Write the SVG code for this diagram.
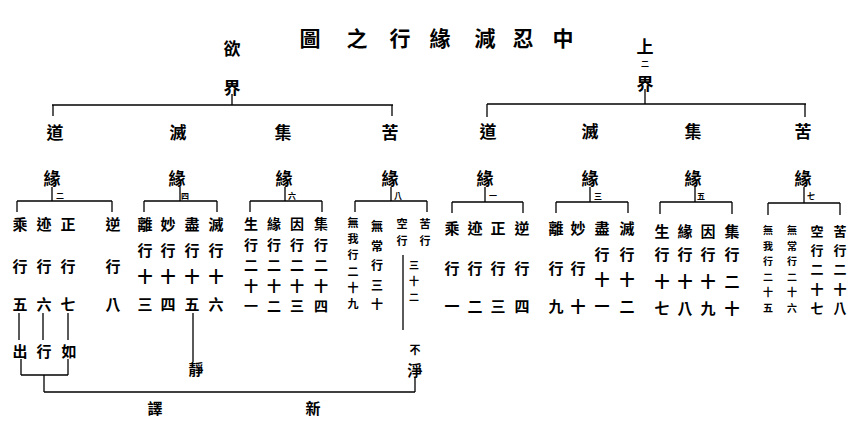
<svg xmlns="http://www.w3.org/2000/svg" width="860" height="448" viewBox="0 0 860 448">
<style>
text{font-family:"Noto Sans CJK TC","Noto Sans CJK SC",sans-serif;font-weight:700;fill:#000;text-anchor:middle;dominant-baseline:central}
.t{font-size:21px}
.h{font-size:17px}
.c{font-size:15px}
.c14{font-size:14px}
.c13{font-size:13px}
.s{font-size:12px}
.s11{font-size:11px}
.s10{font-size:10px}
.n{font-size:8px}
.ln line{stroke:#000;stroke-width:1.3}
</style>
<rect width="860" height="448" fill="#fff"/>
<g id="title"><text class="t" x="310 357 400 440 485 523 563" y="37">圖之行緣減忍中</text></g>

<g class="ln" id="connectors">
<line x1="232" y1="94" x2="232" y2="105"/>
<line x1="52" y1="105" x2="393" y2="105"/>
<line x1="53" y1="105" x2="53" y2="116"/>
<line x1="392" y1="105" x2="392" y2="116"/>
<line x1="645" y1="89" x2="645" y2="104"/>
<line x1="487" y1="104" x2="806" y2="104"/>
<line x1="487" y1="104" x2="487" y2="117"/>
<line x1="805" y1="104" x2="805" y2="117"/>
<line x1="52" y1="187" x2="52" y2="201"/><line x1="17" y1="201" x2="112" y2="201"/><line x1="17" y1="201" x2="17" y2="212"/><line x1="112" y1="201" x2="112" y2="212"/>
<line x1="180" y1="187" x2="180" y2="201"/><line x1="144" y1="201" x2="217" y2="201"/><line x1="144" y1="201" x2="144" y2="212"/><line x1="217" y1="201" x2="217" y2="212"/>
<line x1="285" y1="187" x2="285" y2="201"/><line x1="250" y1="201" x2="322" y2="201"/><line x1="250" y1="201" x2="250" y2="212"/><line x1="322" y1="201" x2="322" y2="212"/>
<line x1="391" y1="187" x2="391" y2="201"/><line x1="355" y1="201" x2="427" y2="201"/><line x1="355" y1="201" x2="355" y2="212"/><line x1="427" y1="201" x2="427" y2="212"/>
<line x1="485" y1="187" x2="485" y2="202"/><line x1="452" y1="202" x2="523" y2="202"/><line x1="452" y1="202" x2="452" y2="213"/><line x1="523" y1="202" x2="523" y2="213"/>
<line x1="590" y1="187" x2="590" y2="202"/><line x1="556" y1="202" x2="628" y2="202"/><line x1="556" y1="202" x2="556" y2="213"/><line x1="628" y1="202" x2="628" y2="213"/>
<line x1="695" y1="187" x2="695" y2="202"/><line x1="660" y1="202" x2="732" y2="202"/><line x1="660" y1="202" x2="660" y2="214"/><line x1="732" y1="202" x2="732" y2="214"/>
<line x1="804" y1="187" x2="804" y2="203"/><line x1="768" y1="203" x2="840" y2="203"/><line x1="768" y1="203" x2="768" y2="215"/><line x1="840" y1="203" x2="840" y2="215"/>
<line x1="19" y1="313" x2="19" y2="340"/>
<line x1="43" y1="313" x2="43" y2="340"/>
<line x1="68" y1="313" x2="68" y2="340"/>
<line x1="21" y1="359" x2="21" y2="375"/>
<line x1="68" y1="359" x2="68" y2="375"/>
<line x1="21" y1="375" x2="68" y2="375"/>
<line x1="44" y1="375" x2="44" y2="392"/>
<line x1="44" y1="392" x2="415" y2="392"/>
<line x1="415" y1="377" x2="415" y2="392"/>
<line x1="193" y1="313" x2="193" y2="362"/>
<line x1="403" y1="255" x2="403" y2="330"/>
</g>

<g id="yujie"><text class="h" x="232" y="47">欲</text><text class="h" x="232" y="86">界</text></g>
<g id="shangerjie"><text class="h" x="645" y="45">上</text><text class="n" x="645" y="63">二</text><text class="h" x="645" y="82">界</text></g>

<g id="left-truths">
<text class="h" x="55" y="131">道</text><text class="h" x="178" y="131">滅</text><text class="h" x="283" y="131">集</text><text class="h" x="390" y="131">苦</text>
</g>
<g id="right-truths">
<text class="h" x="488" y="130">道</text><text class="h" x="590" y="130">滅</text><text class="h" x="693" y="130">集</text><text class="h" x="803" y="130">苦</text>
</g>

<g id="yuan-left">
<text class="h" x="52" y="177">緣</text><text class="n" x="60" y="195">二</text>
<text class="h" x="177" y="177">緣</text><text class="n" x="185" y="195">四</text>
<text class="h" x="284" y="177">緣</text><text class="n" x="292" y="195">六</text>
<text class="h" x="390" y="177">緣</text><text class="n" x="398" y="195">八</text>
</g>
<g id="yuan-right">
<text class="h" x="485" y="177">緣</text><text class="n" x="493" y="195">一</text>
<text class="h" x="590" y="177">緣</text><text class="n" x="598" y="195">三</text>
<text class="h" x="693" y="177">緣</text><text class="n" x="701" y="195">五</text>
<text class="h" x="803" y="177">緣</text><text class="n" x="811" y="195">七</text>
</g>

<g id="L-dao">
<text class="c" x="20" y="223">乘</text><text class="c" x="20" y="265">行</text><text class="c" x="20" y="303">五</text>
<text class="c" x="44" y="223">迹</text><text class="c" x="44" y="265">行</text><text class="c" x="44" y="303">六</text>
<text class="c" x="68" y="223">正</text><text class="c" x="68" y="265">行</text><text class="c" x="68" y="303">七</text>
<text class="c" x="113" y="223">逆</text><text class="c" x="113" y="265">行</text><text class="c" x="113" y="303">八</text>
</g>
<g id="L-mie">
<text class="c" x="145" y="223">離</text><text class="c" x="145" y="249">行</text><text class="c" x="145" y="275">十</text><text class="c" x="145" y="303">三</text>
<text class="c" x="168" y="223">妙</text><text class="c" x="168" y="249">行</text><text class="c" x="168" y="275">十</text><text class="c" x="168" y="303">四</text>
<text class="c" x="192" y="223">盡</text><text class="c" x="192" y="249">行</text><text class="c" x="192" y="275">十</text><text class="c" x="192" y="303">五</text>
<text class="c" x="216" y="223">滅</text><text class="c" x="216" y="249">行</text><text class="c" x="216" y="275">十</text><text class="c" x="216" y="303">六</text>
</g>
<g id="L-ji">
<text class="c14" x="251" y="223">生</text><text class="c14" x="251" y="243.5">行</text><text class="c14" x="251" y="264">二</text><text class="c14" x="251" y="284.5">十</text><text class="c14" x="251" y="305">一</text>
<text class="c14" x="274" y="223">緣</text><text class="c14" x="274" y="243.5">行</text><text class="c14" x="274" y="264">二</text><text class="c14" x="274" y="284.5">十</text><text class="c14" x="274" y="305">二</text>
<text class="c14" x="297" y="223">因</text><text class="c14" x="297" y="243.5">行</text><text class="c14" x="297" y="264">二</text><text class="c14" x="297" y="284.5">十</text><text class="c14" x="297" y="305">三</text>
<text class="c14" x="321" y="223">集</text><text class="c14" x="321" y="243.5">行</text><text class="c14" x="321" y="264">二</text><text class="c14" x="321" y="284.5">十</text><text class="c14" x="321" y="305">四</text>
</g>
<g id="L-ku">
<text class="s11" x="353" y="222">無</text><text class="s11" x="353" y="238">我</text><text class="s11" x="353" y="254">行</text><text class="s11" x="353" y="271">二</text><text class="s11" x="353" y="287">十</text><text class="s11" x="353" y="303">九</text>
<text class="s" x="377" y="225">無</text><text class="s" x="377" y="245">常</text><text class="s" x="377" y="264">行</text><text class="s" x="377" y="284">三</text><text class="s" x="377" y="303">十</text>
<text class="s11" x="402" y="223">空</text><text class="s11" x="402" y="240">行</text>
<text class="s11" x="425" y="223">苦</text><text class="s11" x="425" y="240">行</text>
<text class="s10" x="414" y="264">三</text><text class="s10" x="414" y="280">十</text><text class="s10" x="414" y="296">二</text>
</g>

<g id="R-dao">
<text class="c" x="452" y="227">乘</text><text class="c" x="452" y="267">行</text><text class="c" x="452" y="305">一</text>
<text class="c" x="475" y="227">迹</text><text class="c" x="475" y="267">行</text><text class="c" x="475" y="305">二</text>
<text class="c" x="498" y="227">正</text><text class="c" x="498" y="267">行</text><text class="c" x="498" y="305">三</text>
<text class="c" x="522" y="227">逆</text><text class="c" x="522" y="267">行</text><text class="c" x="522" y="305">四</text>
</g>
<g id="R-mie">
<text class="c" x="556" y="227">離</text><text class="c" x="556" y="267">行</text><text class="c" x="556" y="305">九</text>
<text class="c" x="578" y="227">妙</text><text class="c" x="578" y="267">行</text><text class="c" x="578" y="305">十</text>
<text class="c" x="602" y="227">盡</text><text class="c" x="602" y="253">行</text><text class="c" x="602" y="278">十</text><text class="c" x="602" y="305">一</text>
<text class="c" x="627" y="227">滅</text><text class="c" x="627" y="253">行</text><text class="c" x="627" y="278">十</text><text class="c" x="627" y="305">二</text>
</g>
<g id="R-ji">
<text class="c" x="662" y="230">生</text><text class="c" x="662" y="253">行</text><text class="c" x="662" y="280">十</text><text class="c" x="662" y="307">七</text>
<text class="c" x="685" y="230">緣</text><text class="c" x="685" y="253">行</text><text class="c" x="685" y="280">十</text><text class="c" x="685" y="307">八</text>
<text class="c" x="708" y="230">因</text><text class="c" x="708" y="253">行</text><text class="c" x="708" y="280">十</text><text class="c" x="708" y="307">九</text>
<text class="c" x="732" y="230">集</text><text class="c" x="732" y="253">行</text><text class="c" x="732" y="280">二</text><text class="c" x="732" y="307">十</text>
</g>
<g id="R-ku">
<text class="s10" x="768" y="229">無</text><text class="s10" x="768" y="245">我</text><text class="s10" x="768" y="260">行</text><text class="s10" x="768" y="276">二</text><text class="s10" x="768" y="291">十</text><text class="s10" x="768" y="307">五</text>
<text class="s10" x="792" y="229">無</text><text class="s10" x="792" y="245">常</text><text class="s10" x="792" y="260">行</text><text class="s10" x="792" y="276">二</text><text class="s10" x="792" y="291">十</text><text class="s10" x="792" y="307">六</text>
<text class="c13" x="817" y="230">空</text><text class="c13" x="817" y="249">行</text><text class="c13" x="817" y="268.5">二</text><text class="c13" x="817" y="288">十</text><text class="c13" x="817" y="307">七</text>
<text class="c13" x="840" y="230">苦</text><text class="c13" x="840" y="249">行</text><text class="c13" x="840" y="268.5">二</text><text class="c13" x="840" y="288">十</text><text class="c13" x="840" y="307">八</text>
</g>

<g id="chuxingru"><text class="c" x="20" y="350">出</text><text class="c" x="44" y="350">行</text><text class="c" x="69" y="350">如</text></g>
<g id="jing"><text class="c" x="196" y="368">靜</text></g>
<g id="bujing"><text class="s11" x="415" y="349">不</text><text class="c" x="415" y="369">淨</text></g>
<g id="xinyi"><text class="c" x="155" y="407">譯</text><text class="c" x="313" y="407">新</text></g>
</svg>
